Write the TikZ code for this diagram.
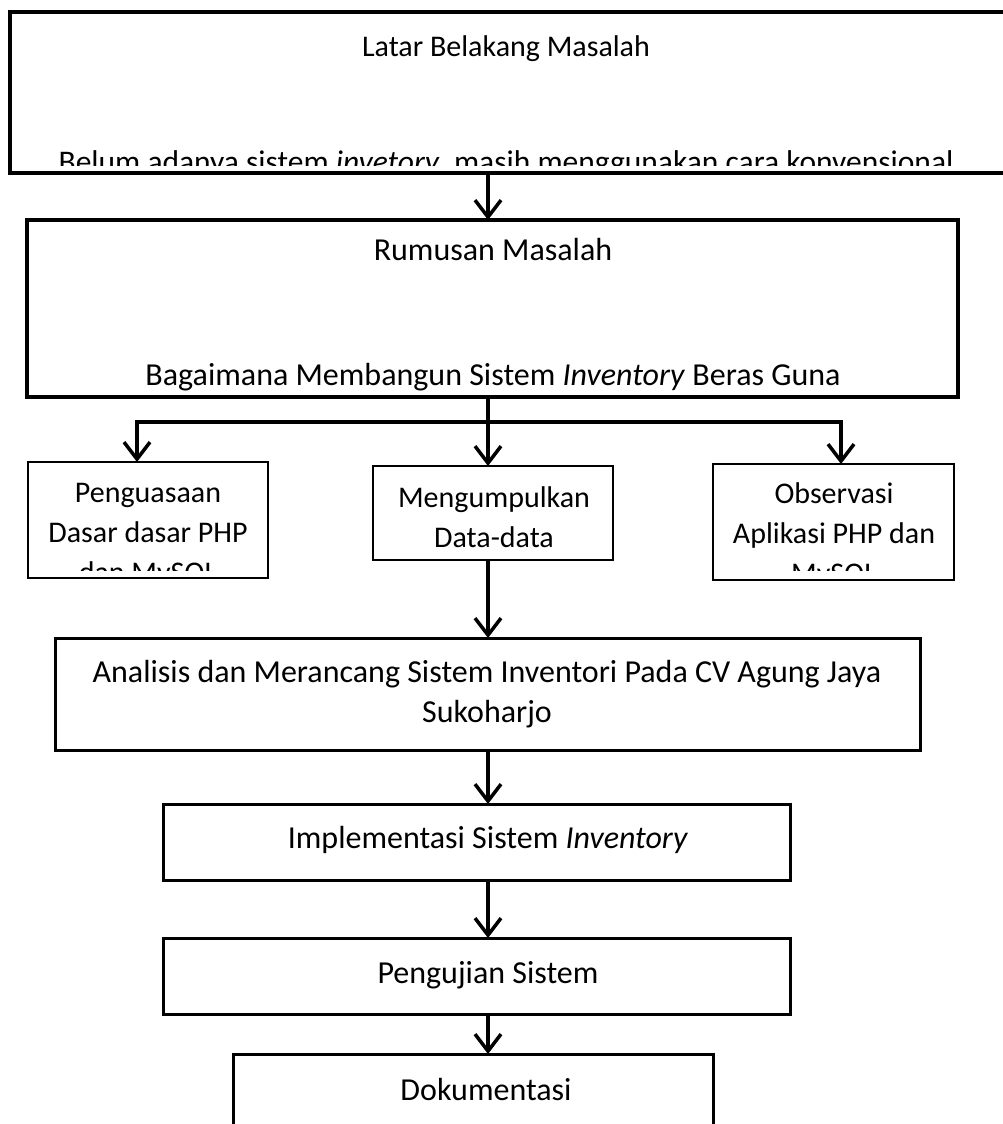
\documentclass[tikz,border=0pt]{standalone}
\usepackage{fontspec}
\setmainfont{Carlito}
\usetikzlibrary{arrows.meta}
\tikzstyle{block} = [rectangle, draw, line width=3pt, outer sep=0pt, inner sep=0pt]
\tikzstyle{bigblock} = [block, line width=4pt]
\tikzstyle{smallblock} = [block, line width=1.5pt]
\tikzstyle{txt} = [align=center, inner sep=0pt, font=\fontsize{30}{40}\selectfont,
    execute at begin node=\strut, execute at end node=\strut]
\tikzstyle{bigtxt} = [txt, font=\fontsize{32}{40}\selectfont]
\tikzstyle{line} = [draw, line width=3.5pt, -{Straight Barb[length=17pt,width=26pt]}]

\begin{document}
\begin{tikzpicture}[x=1pt, y=-1pt]
    \useasboundingbox (0,0) rectangle (1003,1124);
    % Place boxes
    \node [bigblock, minimum width=1000pt, minimum height=161pt] (latar) at (510,92.5) {};
    \node [bigblock, minimum width=931pt, minimum height=177pt] (rumusan) at (492.5,308.5) {};
    \node [smallblock, minimum width=240pt, minimum height=116pt] (penguasaan) at (148,520) {};
    \node [smallblock, minimum width=240pt, minimum height=94pt] (mengumpulkan) at (493,513) {};
    \node [smallblock, minimum width=241pt, minimum height=116pt] (observasi) at (833.5,522) {};
    \node [block, minimum width=865pt, minimum height=112pt] (analisis) at (487.5,694) {};
    \node [block, minimum width=627pt, minimum height=76pt] (implementasi) at (476.5,842) {};
    \node [block, minimum width=627pt, minimum height=76pt] (pengujian) at (476.5,976) {};
    \node [block, minimum width=480pt, minimum height=100pt] (dokumentasi) at (473,1104) {};

    % Place texts (cut off like the text boxes)
    \begin{scope}
        \clip (latar.north west) rectangle (1003,165);
        \node [txt] (latartext) at (506,110) {Latar Belakang Masalah\\[76pt]{\fontsize{31.5}{40}\selectfont Belum adanya sistem \textit{invetory}, masih menggunakan cara konvensional}};
    \end{scope}
    \node [bigtxt] (rumusantext) at (493,318) {Rumusan Masalah\\[85pt]Bagaimana Membangun Sistem \textit{Inventory} Beras Guna};
    \begin{scope}
        \clip (penguasaan.north west) rectangle ([yshift=8pt]penguasaan.south east);
        \node [txt] (penguasaantext) at (148,539) {Penguasaan\\Dasar dasar PHP\\dan MySQL};
    \end{scope}
    \node [txt] (mengumpulkantext) at (494,523) {Mengumpulkan\\Data-data};
    \begin{scope}
        \clip (observasi.north west) rectangle ([yshift=10pt]observasi.south east);
        \node [txt] (observasitext) at (834,539) {Observasi\\Aplikasi PHP dan\\MySQL};
    \end{scope}
    \node [bigtxt] (analisistext) at (487,697) {Analisis dan Merancang Sistem Inventori Pada CV Agung Jaya\\Sukoharjo};
    \node [bigtxt] (implementasitext) at (488,840) {Implementasi Sistem \textit{Inventory}};
    \node [bigtxt] (pengujiantext) at (488,975) {Pengujian Sistem};
    \node [bigtxt] (dokumentasitext) at (486,1092) {Dokumentasi};

    % Draw edges
    \coordinate (spine) at (488,0);
    \coordinate (forkL) at (137,422);
    \coordinate (forkR) at (841,422);
    \path [line] (spine |- latar.south) -- (spine |- rumusan.north);
    \path [line] (spine |- rumusan.south) -- (spine |- mengumpulkan.north);
    \path [line] (spine |- forkL) -- (forkL) -- (forkL |- penguasaan.north);
    \path [line] (spine |- forkR) -- (forkR) -- (forkR |- observasi.north);
    \path [line] (spine |- mengumpulkan.south) -- (spine |- analisis.north);
    \path [line] (spine |- analisis.south) -- (spine |- implementasi.north);
    \path [line] (spine |- implementasi.south) -- (spine |- pengujian.north);
    \path [line] (spine |- pengujian.south) -- (spine |- dokumentasi.north);
\end{tikzpicture}
\end{document}
